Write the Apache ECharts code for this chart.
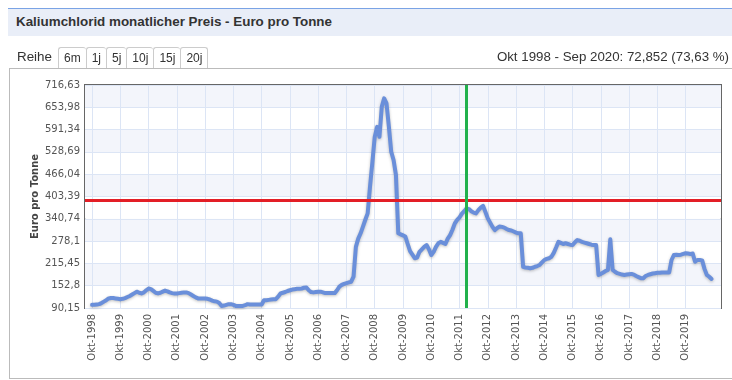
<!DOCTYPE html>
<html><head><meta charset="utf-8">
<script src="https://cdn.jsdelivr.net/npm/echarts@6/dist/echarts.min.js"></script>
<style>
html,body{margin:0;padding:0;background:#fff;width:732px;height:380px;overflow:hidden;font-family:"Liberation Sans",Arial,sans-serif;color:#333}
#chart{position:absolute;left:0;top:0;width:732px;height:380px}
#titlebar{position:absolute;left:8px;top:8px;width:724px;height:28px;background:#e9eef8;border-top:1px solid #7aa3e5;box-sizing:border-box}
#titlebar span{position:absolute;left:8px;top:5px;font-weight:bold;font-size:13.4px;color:#333}
#reihe{position:absolute;left:17px;top:49px;font-size:13.4px;color:#333}
#tabs{position:absolute;left:58px;top:47px;display:flex}
#tabs div{height:21px;line-height:20px;font-size:12px;padding:0 5px;border:1px solid #ccc;border-bottom:none;border-right:none;border-radius:3px 3px 0 0;box-sizing:border-box;color:#333;background:#fff}
#tabs div:last-child{border-right:1px solid #ccc}
#range{position:absolute;right:3px;top:49px;font-size:13.3px;color:#333}
#panel{position:absolute;left:9px;top:68px;width:723px;height:311px;border-left:1px solid #bbb;border-bottom:1px solid #bbb;border-top:1px solid #bbb;box-sizing:border-box}
</style></head>
<body>
<div id="panel"></div>
<div id="chart"></div>
<div id="titlebar"><span>Kaliumchlorid monatlicher Preis - Euro pro Tonne</span></div>
<div id="reihe">Reihe</div>
<div id="tabs"><div>6m</div><div>1j</div><div>5j</div><div>10j</div><div>15j</div><div>20j</div></div>
<div id="range">Okt 1998 - Sep 2020: 72,852 (73,63 %)</div>
<script>
const monthNames = ['Jan','Feb','Mär','Apr','Mai','Jun','Jul','Aug','Sep','Okt','Nov','Dez'];
const startYear = 1998, startMonth = 9; // Okt 1998
const padBefore = 3, padAfter = 4;

const prices = [
  98.95, 99, 100, 101, 104, 108, 112, 117, 118, 118, 117, 116,
  115, 116, 118, 121, 124, 128, 132, 136, 133, 131, 134, 140,
  145, 143, 138, 133, 131, 133, 136, 139, 137, 134, 132, 131,
  131, 132, 133, 134, 134, 132, 128, 124, 120, 117, 117, 117,
  117, 116, 114, 111, 109, 108, 104, 96, 97, 99, 101, 101,
  99, 96, 96, 96, 96, 98, 101, 100, 100, 100, 100, 100,
  100, 112, 112, 113, 114, 115, 115, 122, 131, 133, 135, 138,
  140, 142, 143, 144, 144, 145, 147, 148, 140, 135, 134, 135,
  136, 136, 134, 132, 132, 132, 132, 132, 140, 150, 155, 158,
  160, 162, 164, 178, 262, 285, 300, 319, 338, 356, 431, 500,
  571, 599, 571, 656, 679, 665, 600, 529, 506, 464, 300, 297,
  294, 291, 270, 250, 240, 230, 232, 248, 255, 262, 267, 255,
  239, 248, 262, 272, 276, 273, 270, 285, 295, 310, 328, 338,
  345, 355, 362, 370, 368, 362, 358, 356, 365, 372, 377, 360,
  342, 330, 318, 309, 315, 319, 318, 316, 312, 309, 308, 305,
  302, 300, 300, 206, 204, 203, 202, 203, 206, 208, 211, 218,
  225, 228, 230, 234, 245, 260, 276, 273, 270, 272, 270, 268,
  267, 275, 281, 279, 276, 274, 272, 270, 268, 267, 267, 183,
  186, 190, 194, 197, 283, 197, 192, 188, 186, 184, 183, 184,
  185, 186, 184, 180, 177, 174, 174, 180, 183, 185, 187, 188,
  189, 189, 190, 190, 190, 190, 225, 239, 240, 239, 240, 242,
  244, 243, 242, 243, 220, 225, 225, 224, 200, 183, 178, 171.8
];

const yTickLabels = ['90,15','152,8','215,45','278,1','340,74','403,39','466,04','528,69','591,34','653,98','716,63'];
const yMin = 90.15, yMax = 716.63;
const redLineValue = 393;
const greenLineCategory = 'Jan-2012';

const categories = [];
for (let i = 0; i < padBefore; i++) categories.push(' '.repeat(i + 1));
for (let i = 0; i < prices.length; i++) {
  const mi = (startMonth + i) % 12;
  const y = startYear + Math.floor((startMonth + i) / 12);
  categories.push(monthNames[mi] + '-' + y);
}
for (let i = 0; i < padAfter; i++) categories.push(' '.repeat(padBefore + i + 1));
const seriesData = [];
for (let i = 0; i < padBefore; i++) seriesData.push(null);
prices.forEach(v => seriesData.push(v));
for (let i = 0; i < padAfter; i++) seriesData.push(null);

const isOkt = (idx, val) => typeof val === 'string' && val.indexOf('Okt') === 0;
const yInterval = (yMax - yMin) / 10;

const chart = echarts.init(document.getElementById('chart'), null, {renderer: 'canvas'});
chart.setOption({
  animation: false,
  grid: {left: 85, top: 85, width: 636, height: 223, show: true, borderColor: '#666', borderWidth: 2, backgroundColor: 'transparent', containLabel: false},
  xAxis: {
    type: 'category', data: categories, boundaryGap: false,
    axisLine: {show: false}, axisTick: {show: false},
    axisLabel: {interval: isOkt, rotate: 90, fontFamily: 'DejaVu Sans', fontSize: 10, color: '#555', margin: 6},
    splitLine: {show: true, interval: isOkt, lineStyle: {color: '#dce5f5', width: 1}}
  },
  yAxis: {
    type: 'value', min: yMin, max: yMax, interval: yInterval,
    name: 'Euro pro Tonne', nameLocation: 'middle', nameGap: 45, nameRotate: 90, nameMoveOverlap: false,
    nameTextStyle: {fontFamily: 'DejaVu Sans', fontWeight: 'bold', fontSize: 10, color: '#444'},
    axisLine: {show: false}, axisTick: {show: false},
    axisLabel: {fontFamily: 'DejaVu Sans', fontSize: 10, color: '#555', margin: 5,
      formatter: v => yTickLabels[Math.round((v - yMin) / yInterval)] || ''},
    splitLine: {lineStyle: {color: '#dce5f5', width: 1}},
    splitArea: {show: true, areaStyle: {color: ['#ffffff', '#f3f5fb']}}
  },
  series: [{
    type: 'line', data: seriesData, showSymbol: false, symbol: 'none',
    lineStyle: {color: '#6a8fda', width: 4, join: 'round', cap: 'round', shadowColor: 'rgba(0,0,0,0.25)', shadowBlur: 3, shadowOffsetY: 1},
    markLine: {
      silent: true, symbol: 'none', label: {show: false}, animation: false,
      data: [
        {yAxis: redLineValue, lineStyle: {color: '#e31e26', width: 3, type: 'solid'}},
        {xAxis: greenLineCategory, lineStyle: {color: '#22b14c', width: 3, type: 'solid'}}
      ]
    }
  }]
});
</script>
</body></html>
